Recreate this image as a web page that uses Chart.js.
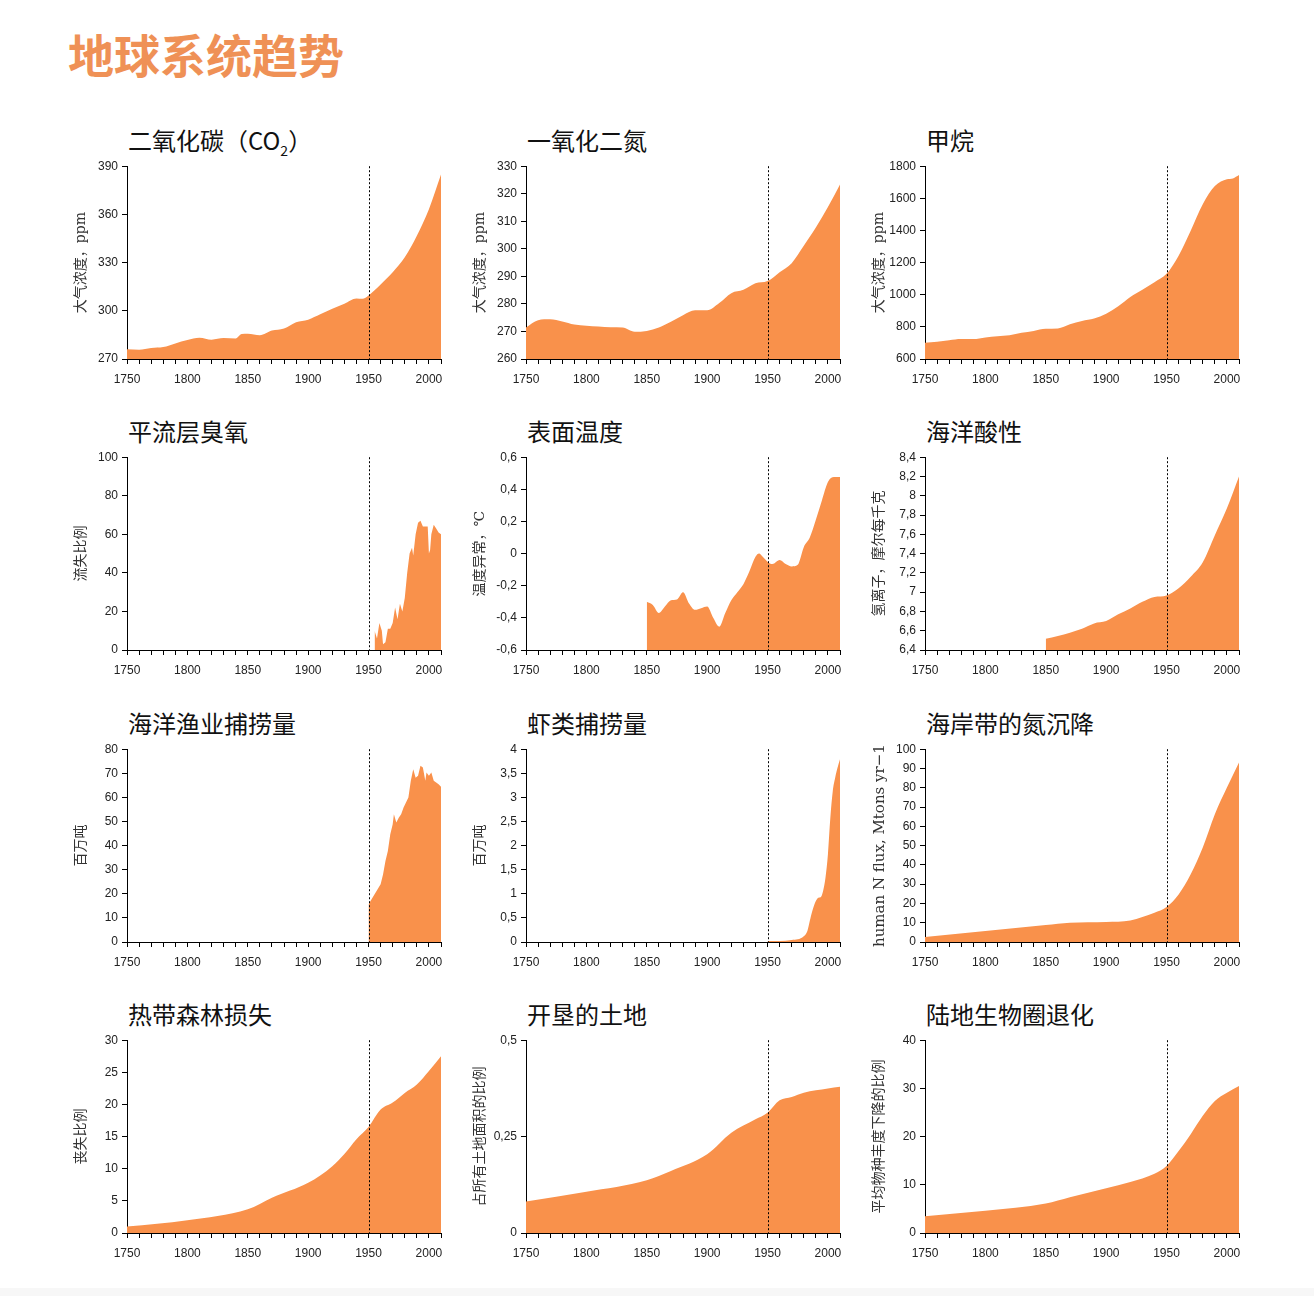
<!DOCTYPE html>
<html>
<head>
<meta charset="utf-8">
<script src="https://cdn.jsdelivr.net/npm/chart.js@4.4.0/dist/chart.umd.min.js"></script>
<style>
  html, body { margin: 0; padding: 0; background: #fff; }
  #page { position: relative; width: 1314px; height: 1296px; overflow: hidden; }
  #mainTitle {
    position: absolute; left: 68px; top: 30px; font: 700 46px/46px 'Noto Sans CJK SC', sans-serif;
    color: #ef9156; white-space: nowrap;
  }
  .ptitle {
    position: absolute; font: 400 24px/24px 'Noto Sans CJK SC', sans-serif; color: #111; white-space: nowrap;
  }
  .ptitle sub { font-size: 14px; line-height: 0; vertical-align: -6px; }
  canvas { position: absolute; }
  #foot { position: absolute; left: 0; bottom: 0; width: 1314px; height: 8px; background: #f7f7f7; }
</style>
</head>
<body>
<div id="page">
  <div id="mainTitle">地球系统趋势</div>
  <div id="foot"></div>
</div>
<script>
// ===== 数据 =====
const co2Years = [1750, 1760, 1770, 1780, 1790, 1800, 1810, 1820, 1830, 1840, 1845, 1850, 1860, 1870, 1880, 1890, 1900, 1910, 1920, 1930, 1940, 1945, 1950, 1960, 1970, 1980, 1990, 2000, 2010];
const co2Values = [276, 275.8, 276.8, 277.4, 279.7, 281.8, 283.2, 282, 283, 282.8, 285.5, 285.7, 284.8, 287.7, 289, 292.9, 294.5, 297.8, 301.3, 304.4, 307.7, 307.5, 309.6, 316.4, 324, 333.3, 346.7, 363.2, 384.8];

const n2oYears = [1750, 1760, 1770, 1780, 1790, 1800, 1810, 1820, 1830, 1840, 1850, 1860, 1870, 1880, 1890, 1900, 1910, 1920, 1930, 1940, 1950, 1960, 1970, 1980, 1990, 2000, 2010];
const n2oValues = [271.4, 274.1, 274.4, 273.6, 272.5, 272.1, 271.8, 271.5, 271.4, 269.9, 270.2, 271.4, 273.5, 275.9, 277.7, 277.7, 280.3, 283.9, 285.1, 287.5, 288.3, 291.5, 294.8, 301.1, 307.7, 315.2, 323.4];

const ch4Years = [1750, 1760, 1770, 1780, 1790, 1800, 1810, 1820, 1830, 1840, 1850, 1860, 1870, 1880, 1890, 1900, 1910, 1920, 1930, 1940, 1950, 1960, 1970, 1980, 1990, 2000, 2005, 2010];
const ch4Values = [701, 707, 717, 724, 724, 734, 742, 748, 763, 775, 788, 790, 816, 837, 852, 882, 928, 986, 1031, 1078, 1130, 1243, 1398, 1563, 1676, 1718, 1724, 1745];

const ozoneYears = [1955, 1957, 1959, 1961, 1962, 1964, 1966, 1968, 1970, 1972, 1974, 1976, 1978, 1980, 1982, 1984, 1986, 1987, 1989, 1991, 1993, 1995, 1997, 1999, 2000, 2001, 2002, 2004, 2006, 2008, 2010];
const ozoneValues = [10, 6, 14, 10, 3, 4, 11, 11, 14, 22, 16, 24, 20, 27, 40, 50, 53, 49, 60, 66, 67, 64, 64, 64, 50, 52, 60, 65, 63, 61, 60];

const tempYears = [1850, 1855, 1860, 1865, 1870, 1875, 1880, 1885, 1890, 1895, 1900, 1905, 1910, 1915, 1920, 1925, 1930, 1935, 1940, 1943, 1946, 1950, 1954, 1960, 1965, 1970, 1975, 1980, 1985, 1990, 1995, 2000, 2005, 2010];
const tempValues = [-0.30, -0.32, -0.37, -0.33, -0.29, -0.285, -0.24, -0.31, -0.35, -0.34, -0.33, -0.40, -0.455, -0.37, -0.29, -0.24, -0.19, -0.11, -0.02, 0.00, -0.02, -0.05, -0.065, -0.04, -0.065, -0.08, -0.07, 0.04, 0.10, 0.21, 0.33, 0.445, 0.476, 0.476];

const acidYears = [1850, 1860, 1870, 1880, 1890, 1900, 1910, 1920, 1930, 1940, 1950, 1960, 1970, 1980, 1990, 2000, 2010];
const acidValues = [6.517, 6.545, 6.58, 6.62, 6.676, 6.70, 6.77, 6.83, 6.90, 6.95, 6.966, 7.04, 7.16, 7.31, 7.59, 7.87, 8.20];

const fishYears = [1950, 1952, 1955, 1958, 1960, 1962, 1964, 1966, 1968, 1970, 1971, 1973, 1975, 1977, 1979, 1981, 1983, 1985, 1987, 1989, 1991, 1993, 1995, 1997, 1998, 2000, 2002, 2004, 2006, 2008, 2010];
const fishValues = [15.6, 17.3, 19.8, 22.3, 24, 28, 33.6, 37.8, 44.7, 48.9, 53, 49.6, 51.6, 53, 55.8, 57.9, 60, 66.9, 71.7, 68.2, 69, 73.1, 72.4, 66.9, 70.3, 69, 70.3, 66.9, 66.2, 65.5, 64.4];

const shrimpYears = [1950, 1960, 1970, 1975, 1980, 1983, 1985, 1987, 1990, 1992, 1994, 1996, 1998, 2000, 2002, 2004, 2006, 2008, 2010];
const shrimpValues = [0.02, 0.02, 0.04, 0.055, 0.12, 0.23, 0.44, 0.64, 0.85, 0.92, 0.93, 1.06, 1.34, 1.82, 2.58, 3.13, 3.41, 3.62, 3.79];

const nitroYears = [1750, 1800, 1850, 1870, 1900, 1920, 1930, 1940, 1950, 1960, 1970, 1980, 1990, 2000, 2010];
const nitroValues = [2.6, 5.7, 8.8, 10, 10.4, 11.2, 13, 15.2, 18.2, 24.7, 35.1, 49, 66.3, 80.1, 93.1];

const forestYears = [1750, 1800, 1850, 1870, 1900, 1920, 1930, 1940, 1950, 1960, 1970, 1980, 1990, 2000, 2010];
const forestValues = [1.0, 2.0, 3.7, 5.5, 7.8, 10.4, 12.3, 14.6, 16.5, 19.2, 20.3, 21.8, 23.1, 25.2, 27.5];

const cropYears = [1750, 1800, 1850, 1870, 1900, 1920, 1940, 1950, 1960, 1970, 1980, 1990, 2000, 2010];
const cropValues = [0.082, 0.107, 0.137, 0.161, 0.204, 0.260, 0.295, 0.312, 0.344, 0.353, 0.364, 0.370, 0.375, 0.379];

const bioYears = [1750, 1800, 1850, 1870, 1900, 1920, 1940, 1950, 1960, 1970, 1980, 1990, 2000, 2010];
const bioValues = [3.5, 4.6, 6.1, 7.4, 9.3, 10.6, 12.3, 13.9, 17.0, 20.5, 24.3, 27.4, 29.1, 30.5];

const xMin = 1750, xMax = 2010, markYear = 1950;

// ===== 12 个小图 =====
const panels = [
  { title: '二氧化碳（CO<sub>2</sub>）', yTitle: '大气浓度，ppm', years: co2Years, values: co2Values, min: 270, max: 390, step: 30, smooth: true },
  { title: '一氧化二氮', yTitle: '大气浓度，ppm', years: n2oYears, values: n2oValues, min: 260, max: 330, step: 10, smooth: true },
  { title: '甲烷', yTitle: '大气浓度，ppm', years: ch4Years, values: ch4Values, min: 600, max: 1800, step: 200, smooth: true },
  { title: '平流层臭氧', yTitle: '流失比例', years: ozoneYears, values: ozoneValues, min: 0, max: 100, step: 20, smooth: false },
  { title: '表面温度', yTitle: '温度异常，℃', years: tempYears, values: tempValues, min: -0.6, max: 0.6, step: 0.2, smooth: true },
  { title: '海洋酸性', yTitle: '氢离子，摩尔每千克', years: acidYears, values: acidValues, min: 6.4, max: 8.4, step: 0.2, smooth: true },
  { title: '海洋渔业捕捞量', yTitle: '百万吨', years: fishYears, values: fishValues, min: 0, max: 80, step: 10, smooth: false },
  { title: '虾类捕捞量', yTitle: '百万吨', years: shrimpYears, values: shrimpValues, min: 0, max: 4, step: 0.5, smooth: true },
  { title: '海岸带的氮沉降', yTitle: 'human N flux, Mtons yr\u22121', years: nitroYears, values: nitroValues, min: 0, max: 100, step: 10, smooth: true, ySize: 15 },
  { title: '热带森林损失', yTitle: '丧失比例', years: forestYears, values: forestValues, min: 0, max: 30, step: 5, smooth: true },
  { title: '开垦的土地', yTitle: '占所有土地面积的比例', years: cropYears, values: cropValues, min: 0, max: 0.5, step: 0.25, smooth: true },
  { title: '陆地生物圈退化', yTitle: '平均物种丰度下降的比例', years: bioYears, values: bioValues, min: 0, max: 40, step: 10, smooth: true }
];

const colLeft = [127, 526, 925];
const rowTop = [165, 456, 748, 1039];
const plotW = 314, plotH = 194;
const axisW = 60, padTop = 10, padRight = 12, xAxisH = 35;
const fillColor = '#f9914b';
const tickFont = { family: "'Liberation Sans', Arial, sans-serif", size: 12 };

function fmt(v) {
  return String(Math.round(v * 100) / 100).replace('.', ',');
}

// 1950 虚线
const line1950 = {
  id: 'line1950',
  afterDatasetsDraw(chart) {
    const { ctx, chartArea, scales } = chart;
    const px = Math.round(scales.x.getPixelForValue(markYear)) + 0.5;
    ctx.save();
    ctx.strokeStyle = '#000';
    ctx.lineWidth = 1;
    ctx.setLineDash([2, 2]);
    ctx.beginPath();
    ctx.moveTo(px, chartArea.top);
    ctx.lineTo(px, chartArea.bottom);
    ctx.stroke();
    ctx.restore();
  }
};

const page = document.getElementById('page');

panels.forEach((p, i) => {
  const left = colLeft[i % 3], top = rowTop[Math.floor(i / 3)];

  const t = document.createElement('div');
  t.className = 'ptitle';
  t.style.left = (left + 1) + 'px';
  t.style.top = (top - 37) + 'px';
  t.innerHTML = p.title;
  page.appendChild(t);

  const c = document.createElement('canvas');
  const w = axisW + plotW + padRight, h = padTop + plotH + xAxisH;
  c.width = w; c.height = h;
  c.style.left = (left - axisW) + 'px';
  c.style.top = (top - padTop) + 'px';
  c.style.width = w + 'px';
  c.style.height = h + 'px';
  page.appendChild(c);

  new Chart(c, {
    type: 'line',
    data: {
      datasets: [{
        data: p.years.map((y, k) => ({ x: y, y: p.values[k] })),
        borderWidth: 0,
        borderColor: fillColor,
        backgroundColor: fillColor,
        fill: 'start',
        pointRadius: 0,
        cubicInterpolationMode: p.smooth ? 'monotone' : 'default',
        tension: 0
      }]
    },
    options: {
      responsive: false,
      animation: false,
      layout: { padding: { top: padTop, right: padRight, left: 0, bottom: 0 } },
      plugins: { legend: { display: false }, tooltip: { enabled: false } },
      scales: {
        x: {
          type: 'linear', min: xMin, max: xMax,
          afterFit: s => { s.height = xAxisH; },
          border: { display: true, color: '#000', width: 1 },
          grid: { drawOnChartArea: false, drawTicks: true, tickLength: 5, color: '#000' },
          ticks: {
            stepSize: 10, autoSkip: false, maxRotation: 0, padding: 8,
            color: '#222', font: tickFont,
            callback: v => (v % 50 === 0 ? String(v) : '')
          }
        },
        y: {
          min: p.min, max: p.max,
          afterFit: s => { s.width = axisW; },
          border: { display: true, color: '#000', width: 1 },
          grid: { drawOnChartArea: false, drawTicks: true, tickLength: 5, color: '#000' },
          ticks: { stepSize: p.step, autoSkip: false, padding: 4, color: '#222', font: tickFont, callback: v => fmt(v) },
          title: {
            display: true, text: p.yTitle, color: '#333',
            padding: { top: 6, bottom: 0 },
            font: { family: "'DejaVu Serif', 'Noto Sans CJK SC', serif", size: p.ySize || 14 }
          }
        }
      }
    },
    plugins: [line1950]
  });
});
</script>
</body>
</html>
